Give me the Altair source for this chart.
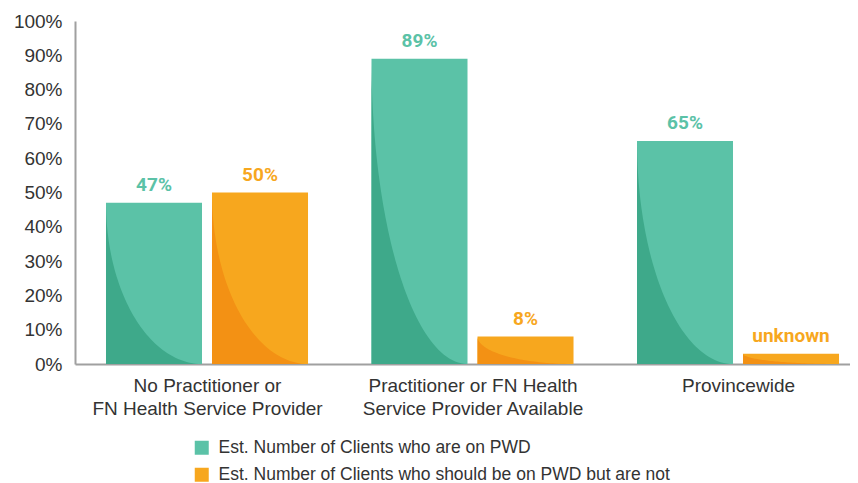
import json
import altair as alt
import pandas as pd

# ---- data ----
groups = [
    "No Practitioner or\nFN Health Service Provider",
    "Practitioner or FN Health\nService Provider Available",
    "Provincewide",
]
series = [
    "Est. Number of Clients who are on PWD",
    "Est. Number of Clients who should be on PWD but are not",
]
on_pwd = [47, 89, 65]
should_be = [50, 8, 3]
on_pwd_labels = ["47%", "89%", "65%"]
should_be_labels = ["50%", "8%", "unknown"]
y_ticks = list(range(0, 101, 10))

# ---- styles ----
light = ["#5BC2A7", "#F7A71E"]
dark = ["#3EA98A", "#F39114"]
TXT = "#333333"
AXIS = "#A0A0A0"
FONT = "Liberation Sans"

# layout constants (group units)
BAR = 0.3616
GAP = 0.0377
SAMPLES = [i / 60 for i in range(61)]  # sampling of the decorative curve

rows = []
for gi in range(len(groups)):
    rows.append(dict(gi=gi, si=0, series=series[0], value=on_pwd[gi], label=on_pwd_labels[gi]))
    rows.append(dict(gi=gi, si=1, series=series[1], value=should_be[gi], label=should_be_labels[gi]))
df = pd.DataFrame(rows)

curve_rows = []
for r in rows:
    for s in SAMPLES:
        d = dict(r)
        d["s"] = s
        curve_rows.append(d)
cdf = pd.DataFrame(curve_rows)

group_lines = [g.split("\n") for g in groups]

xscale = alt.Scale(domain=[-0.4972, 2.4218], nice=False, zero=False)
yscale = alt.Scale(domain=[0, 100], nice=False)

x_axis = alt.Axis(
    title=None, values=[0, 1, 2], grid=False, ticks=False,
    labelExpr=f"{json.dumps(group_lines)}[datum.value]",
    labelFont=FONT, labelFontSize=19, labelColor=TXT, labelLineHeight=23,
    labelPadding=12, labelOverlap=False, labelBound=False, labelLimit=500,
    domainColor=AXIS, domainWidth=2,
)
y_axis = alt.Axis(
    title=None, values=y_ticks, grid=False, ticks=False,
    labelExpr="datum.value + '%'", labelOverlap=False,
    labelFont=FONT, labelFontSize=19, labelColor=TXT, labelPadding=13,
    domainColor=AXIS, domainWidth=2,
)

color_enc = alt.Color(
    "series:N",
    scale=alt.Scale(domain=series, range=light),
    legend=alt.Legend(
        title=None, orient="none", legendX=118, legendY=418, direction="vertical",
        symbolType="square", symbolSize=196, symbolStrokeWidth=0,
        labelFont=FONT, labelFontSize=17.5, labelColor=TXT, labelOffset=8,
        rowPadding=8, padding=0, labelLimit=600,
    ),
)

pos_calc = dict(
    x0=f"datum.gi - {GAP/2} - {BAR} + datum.si * ({BAR} + {GAP})",
)

bars = alt.Chart(df).transform_calculate(**pos_calc).transform_calculate(
    x1=f"datum.x0 + {BAR}",
).mark_bar().encode(
    x=alt.X("x0:Q", scale=xscale, axis=x_axis),
    x2="x1:Q",
    y=alt.Y("value:Q", scale=yscale, axis=y_axis),
    y2=alt.datum(0),
    color=color_enc,
)

curves = alt.Chart(cdf).transform_calculate(**pos_calc).transform_calculate(
    t="datum.s * datum.s",
    key="datum.gi * 2 + datum.si",
).transform_calculate(
    cx=f"datum.x0 + datum.t * {BAR}",
    cy="datum.value * (1 - sqrt(max(0, 1 - pow(1 - datum.t, 2))))",
).mark_area(interpolate="linear").encode(
    x=alt.X("cx:Q", scale=xscale, axis=x_axis),
    y=alt.Y("cy:Q", scale=yscale, stack=None, axis=y_axis),
    detail="key:N",
    fill=alt.Fill("series:N", scale=alt.Scale(domain=series, range=dark), legend=None),
)

labels = alt.Chart(df).transform_calculate(**pos_calc).transform_calculate(
    xc=f"datum.x0 + {BAR/2}",
).mark_text(
    baseline="bottom", dy=-8, font="Roboto", fontWeight="bold", fontSize=19
).encode(
    x=alt.X("xc:Q", scale=xscale, axis=x_axis),
    y=alt.Y("value:Q", scale=yscale, axis=y_axis),
    text="label:N",
    color=color_enc,
)

chart = alt.layer(bars, curves, labels).properties(
    width=775,
    height=343,
    autosize=alt.AutoSizeParams(type="none"),
    padding={"left": 67, "top": 13, "right": 0, "bottom": 119},
).configure_view(stroke=None)

chart.save("out.html", embed_options={"renderer": "svg", "actions": False})
